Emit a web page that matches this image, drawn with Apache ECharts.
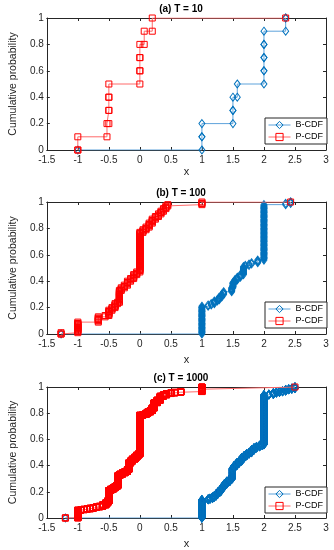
<!DOCTYPE html>
<html><head><meta charset="utf-8">
<script src="https://cdn.jsdelivr.net/npm/echarts@6/dist/echarts.min.js"></script>
<style>html,body{margin:0;padding:0;background:#fff}#c{width:334px;height:550px}</style>
</head><body><div id="c"></div>
<script>
const panelTitles = ['(a) T = 10', '(b) T = 100', '(c) T = 1000'];
const seriesNames = ['B-CDF', 'P-CDF'];
const xTicks = [-1.5, -1, -0.5, 0, 0.5, 1, 1.5, 2, 2.5, 3];
const yTicks = [0, 0.2, 0.4, 0.6, 0.8, 1];

// Panel (a) T = 10 : sample values and how many samples share each value
const aBVals   = [1, 1.5, 1.57, 2, 2.35];
const aBCounts = [2, 2, 1, 4, 1];
const aPVals   = [-1, -0.53, -0.5, 0, 0.07, 0.2];
const aPCounts = [1, 1, 3, 3, 1, 1];

// Panel (b) T = 100
const bBVals   = [1.0, 1.1, 1.15, 1.2, 1.25, 1.28, 1.32, 1.35, 1.48, 1.5, 1.53, 1.57, 1.62, 1.67, 1.7, 1.76, 1.8, 1.9, 2.0, 2.35, 2.43];
const bBCounts = [21, 1, 1, 2, 1, 2, 2, 2, 3, 4, 2, 2, 2, 6, 1, 1, 1, 2, 42, 1, 1];
const bPVals   = [-1.27, -1.0, -0.67, -0.56, -0.5, -0.45, -0.4, -0.36, -0.33, -0.3, -0.25, -0.2, -0.15, -0.1, -0.05, 0, 0.05, 0.1, 0.15, 0.2, 0.25, 0.3, 0.34, 0.38, 0.42, 0.45, 1.0];
const bPCounts = [1, 8, 4, 1, 4, 2, 3, 1, 9, 2, 2, 3, 2, 3, 2, 30, 2, 2, 3, 3, 2, 2, 2, 2, 2, 1, 2];

// Panel (c) T = 1000
const cBVals   = [1.0, 1.1, 1.13, 1.17, 1.2, 1.23, 1.26, 1.3, 1.33, 1.36, 1.4, 1.45, 1.49, 1.52, 1.56, 1.6, 1.64, 1.68, 1.72, 1.76, 1.8, 1.84, 1.88, 1.93, 1.97, 2.0, 2.08, 2.15, 2.2, 2.25, 2.3, 2.35, 2.4, 2.45, 2.5];
const cBCounts = [140, 5, 5, 10, 10, 15, 15, 20, 20, 20, 20, 20, 80, 20, 20, 15, 25, 15, 15, 10, 20, 15, 10, 10, 5, 380, 5, 10, 5, 5, 5, 10, 5, 5, 10];
const cPVals   = [-1.2, -1.0, -0.95, -0.9, -0.85, -0.8, -0.75, -0.7, -0.65, -0.6, -0.55, -0.52, -0.5, -0.47, -0.43, -0.4, -0.37, -0.35, -0.32, -0.28, -0.24, -0.2, -0.18, -0.15, -0.12, -0.08, -0.05, -0.02, 0, 0.05, 0.1, 0.13, 0.17, 0.2, 0.23, 0.28, 0.33, 0.38, 0.43, 0.5, 0.56, 0.66, 1.0];
const cPCounts = [1, 59, 3, 4, 3, 5, 5, 5, 5, 10, 15, 15, 80, 10, 10, 10, 10, 75, 10, 10, 10, 15, 50, 15, 15, 15, 15, 10, 295, 5, 10, 10, 10, 20, 40, 20, 30, 10, 10, 5, 5, 5, 35];

const panels = [
  {B: [aBVals, aBCounts], P: [aPVals, aPCounts]},
  {B: [bBVals, bBCounts], P: [bPVals, bPCounts]},
  {B: [cBVals, cBCounts], P: [cPVals, cPCounts]}
];

// Empirical CDF stair points (every corner carries a marker, as in the source plot)
function ecdfPoints(vals, counts, xmin, xmax) {
  const n = counts.reduce((s, c) => s + c, 0);
  const pts = [[xmin, 0]];
  let k = 0;
  vals.forEach((v, i) => {
    for (let j = 0; j < counts[i]; j++) {
      pts.push([v, k / n]);
      k++;
      pts.push([v, k / n]);
    }
  });
  pts.push([xmax, 1]);
  return pts;
}

const FONT = 'Liberation Sans';
const gridTops = [18, 202, 387];
const gridH = 132;
const nameGaps = [16, 20, 20];
const axisCol = '#262626';
const blueMark = '#0072BD', blueLine = '#5ea3db';
const redMark = '#ff0000', redLine = '#ff6a6a';

const grid = [], xAxis = [], yAxis = [], series = [], title = [], legend = [];
panels.forEach((p, i) => {
  grid.push({left: 36, width: 290, top: gridTops[i], height: gridH});
  const common = {type: 'value', gridIndex: i, splitLine: {show: false},
    axisLine: {show: true, onZero: false, lineStyle: {color: axisCol, width: 1}},
    axisTick: {show: true, inside: true, length: 3, lineStyle: {color: axisCol}}};
  xAxis.push(Object.assign({}, common, {position: 'bottom', min: xTicks[0], max: xTicks[xTicks.length - 1], interval: xTicks[1] - xTicks[0],
    name: 'x', nameLocation: 'middle', nameGap: nameGaps[i], nameTextStyle: {fontFamily: FONT, fontSize: 11, color: axisCol},
    axisLabel: {fontFamily: FONT, fontSize: 10, color: axisCol, margin: 5}}));
  xAxis.push(Object.assign({}, common, {position: 'top', min: xTicks[0], max: xTicks[xTicks.length - 1], interval: xTicks[1] - xTicks[0],
    axisLabel: {show: false}}));
  yAxis.push(Object.assign({}, common, {position: 'left', min: yTicks[0], max: yTicks[yTicks.length - 1], interval: yTicks[1] - yTicks[0],
    name: 'Cumulative probability', nameLocation: 'middle', nameGap: 20, nameTextStyle: {fontFamily: FONT, fontSize: 10.5, color: axisCol},
    axisLabel: {fontFamily: FONT, fontSize: 10, color: axisCol, margin: 3}}));
  yAxis.push(Object.assign({}, common, {position: 'right', min: yTicks[0], max: yTicks[yTicks.length - 1], interval: yTicks[1] - yTicks[0],
    axisLabel: {show: false}}));

  const xmin = Math.min(p.B[0][0], p.P[0][0]);
  const xmax = Math.max(p.B[0][p.B[0].length - 1], p.P[0][p.P[0].length - 1]);

  series.push({name: seriesNames[0], type: 'line', xAxisIndex: 2 * i, yAxisIndex: 2 * i,
    data: ecdfPoints(p.B[0], p.B[1], xmin, xmax), symbol: 'diamond', symbolSize: [6, 8], showAllSymbol: true,
    lineStyle: {color: blueLine, width: 1}, itemStyle: {color: 'rgba(0,0,0,0)', borderColor: blueMark, borderWidth: 1},
    emphasis: {disabled: true}, animation: false, z: 2});
  series.push({name: seriesNames[1], type: 'line', xAxisIndex: 2 * i, yAxisIndex: 2 * i,
    data: ecdfPoints(p.P[0], p.P[1], xmin, xmax), symbol: 'rect', symbolSize: 6, showAllSymbol: true,
    lineStyle: {color: redLine, width: 1}, itemStyle: {color: 'rgba(0,0,0,0)', borderColor: redMark, borderWidth: 1},
    emphasis: {disabled: true}, animation: false, z: 3});

  title.push({text: panelTitles[i], left: 181, top: gridTops[i] - 15, textAlign: 'center', padding: 0,
    textStyle: {fontFamily: FONT, fontSize: 10, fontWeight: 'bold', color: '#000', lineHeight: 12}});
  legend.push({left: 265, top: gridTops[i] + gridH - 32, orient: 'vertical', selectedMode: false,
    data: [
      {name: seriesNames[0], itemStyle: {color: 'rgba(0,0,0,0)', borderColor: blueMark, borderWidth: 1}, lineStyle: {color: blueLine, width: 1}},
      {name: seriesNames[1], itemStyle: {color: 'rgba(0,0,0,0)', borderColor: redMark, borderWidth: 1}, lineStyle: {color: redLine, width: 1}}
    ],
    backgroundColor: '#fff', borderColor: axisCol, borderWidth: 1, padding: [1, 4, 1, 3], itemGap: 0,
    itemWidth: 22, itemHeight: 9, textStyle: {fontFamily: FONT, fontSize: 9, color: '#000', lineHeight: 12}});
});

const chart = echarts.init(document.getElementById('c'), null, {renderer: 'canvas'});
chart.setOption({animation: false, backgroundColor: '#fff', title, legend, grid, xAxis, yAxis, series});
</script></body></html>
